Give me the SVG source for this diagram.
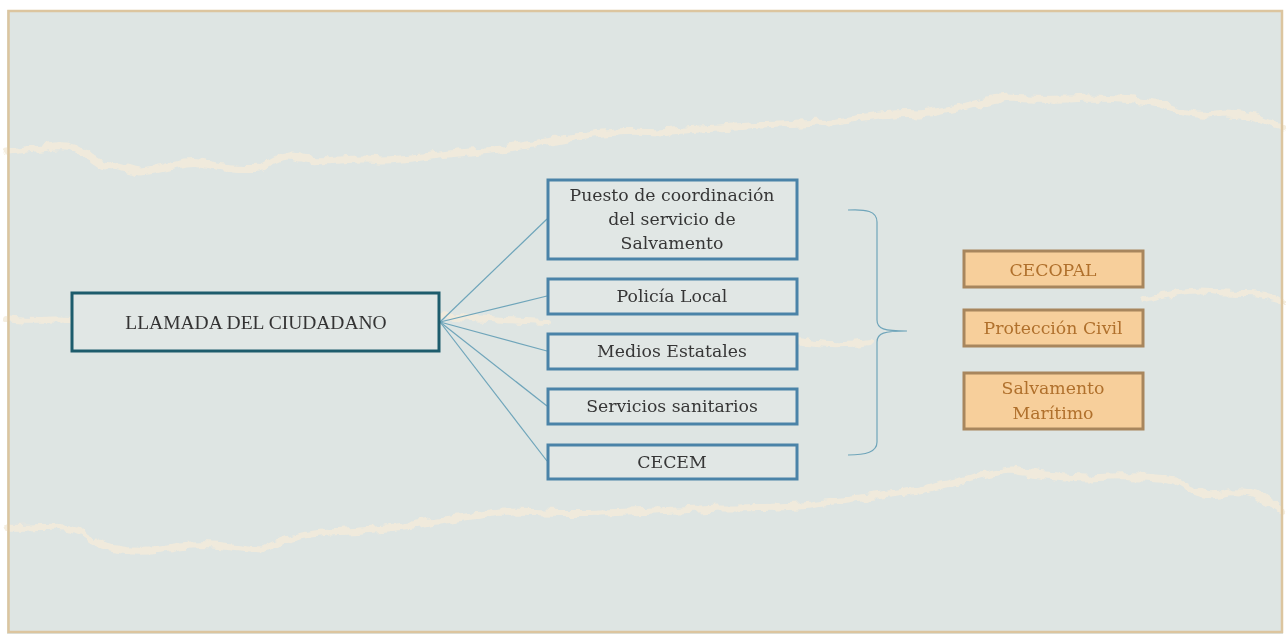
<svg xmlns="http://www.w3.org/2000/svg" width="1287" height="634" viewBox="0 0 1287 634">
<style>
.bg{fill:#dee5e3}
.tear{fill:none;stroke:#f3ebdb;stroke-linecap:round;stroke-linejoin:round;opacity:.85}
.frame{fill:none;stroke:#dcc59f;stroke-width:2.5}
.main{fill:#e1e7e5;stroke:#1d5c6c;stroke-width:3}
.blue{fill:#e1e7e5;stroke:#4a83a8;stroke-width:3}
.orange{fill:#f7cf9b;stroke:#a8865d;stroke-width:3}
.t{font-family:"DejaVu Serif","Liberation Serif",serif;font-size:17.3px;fill:#363636;text-anchor:middle}
.tm{font-family:"Liberation Serif",serif;font-size:19.5px;fill:#333;text-anchor:middle}
.to{font-family:"DejaVu Serif","Liberation Serif",serif;font-size:17.3px;fill:#b0702c;text-anchor:middle}
.conn{fill:none;stroke:#6fa5ba;stroke-width:1.2}
</style>
<defs>
<filter id="rough" x="-5%" y="-50%" width="110%" height="200%">
<feTurbulence type="fractalNoise" baseFrequency="0.08" numOctaves="3" seed="4"/>
<feDisplacementMap in="SourceGraphic" scale="9" xChannelSelector="R" yChannelSelector="G"/>
</filter>
</defs>
<rect width="1287" height="634" fill="#ffffff"/>
<rect x="7" y="10" width="1276" height="624" class="bg"/>
<g filter="url(#rough)">
<path class="tear" stroke-width="7" d="M6,152 C40,150 60,142 75,148 C90,152 92,165 110,166 C130,168 125,170 140,172 C170,170 180,160 200,163 C220,166 230,170 260,168 C275,160 285,152 300,158 C320,165 350,156 380,160 C410,160 430,155 470,152 C510,150 540,142 570,138 C600,132 630,130 660,132 C700,128 730,128 760,125 C790,124 810,122 830,122 C860,118 890,112 920,114 C960,110 980,100 1010,98 C1040,100 1060,100 1090,98 C1120,98 1140,100 1160,104 C1180,112 1195,118 1215,114 C1240,110 1260,118 1282,127"/>
<path class="tear" stroke-width="6" d="M6,318 C30,322 50,318 72,320 M440,316 C470,318 500,320 547,322 M797,340 C820,344 840,346 870,342 M1143,300 C1170,294 1190,290 1210,292 C1230,296 1250,290 1282,300"/>
<path class="tear" stroke-width="7" d="M6,528 C30,530 50,524 75,530 C90,535 95,545 115,548 C135,552 160,550 180,546 C210,542 230,548 262,550 C280,540 300,534 330,532 C370,530 400,528 430,522 C460,518 480,515 500,512 C540,512 570,515 600,513 C640,512 680,510 720,508 C760,508 790,507 810,505 C850,500 880,495 920,490 C960,482 990,472 1010,470 C1040,474 1060,478 1090,478 C1120,476 1150,476 1175,480 C1195,494 1210,498 1230,492 C1250,490 1265,498 1282,510"/>
</g>
<rect x="8.5" y="11" width="1273.5" height="621" class="frame"/>
<g id="connectors">
<line class="conn" x1="440" y1="322" x2="547" y2="219"/>
<line class="conn" x1="440" y1="322" x2="547" y2="296"/>
<line class="conn" x1="440" y1="322" x2="547" y2="351"/>
<line class="conn" x1="440" y1="322" x2="547" y2="406"/>
<line class="conn" x1="440" y1="322" x2="547" y2="461"/>
<path class="conn" d="M848,210 C866,209 877,211 877,222 L877,320 C877,329 884,331 907,331 C884,331 877,333 877,342 L877,442 C877,452 866,455 848,455"/>
</g>
<g id="llamada"><rect class="main" x="72" y="293" width="367" height="58"/><text class="tm" x="256" y="329">LLAMADA DEL CIUDADANO</text></g>
<g id="puesto"><rect class="blue" x="548" y="180" width="249" height="79"/><text class="t" x="672" y="201">Puesto de coordinación</text><text class="t" x="672" y="225">del servicio de</text><text class="t" x="672" y="249">Salvamento</text></g>
<g id="policia"><rect class="blue" x="548" y="279" width="249" height="35"/><text class="t" x="672" y="302">Policía Local</text></g>
<g id="medios"><rect class="blue" x="548" y="334" width="249" height="35"/><text class="t" x="672" y="357">Medios Estatales</text></g>
<g id="sanitarios"><rect class="blue" x="548" y="389" width="249" height="35"/><text class="t" x="672" y="412">Servicios sanitarios</text></g>
<g id="cecem"><rect class="blue" x="548" y="445" width="249" height="34"/><text class="t" x="672" y="468">CECEM</text></g>
<g id="cecopal"><rect class="orange" x="964" y="251" width="179" height="36"/><text class="to" x="1053" y="276">CECOPAL</text></g>
<g id="proteccion"><rect class="orange" x="964" y="310" width="179" height="36"/><text class="to" x="1053" y="334">Protección Civil</text></g>
<g id="salvamento"><rect class="orange" x="964" y="373" width="179" height="56"/><text class="to" x="1053" y="394">Salvamento</text><text class="to" x="1053" y="419">Marítimo</text></g>
</svg>
